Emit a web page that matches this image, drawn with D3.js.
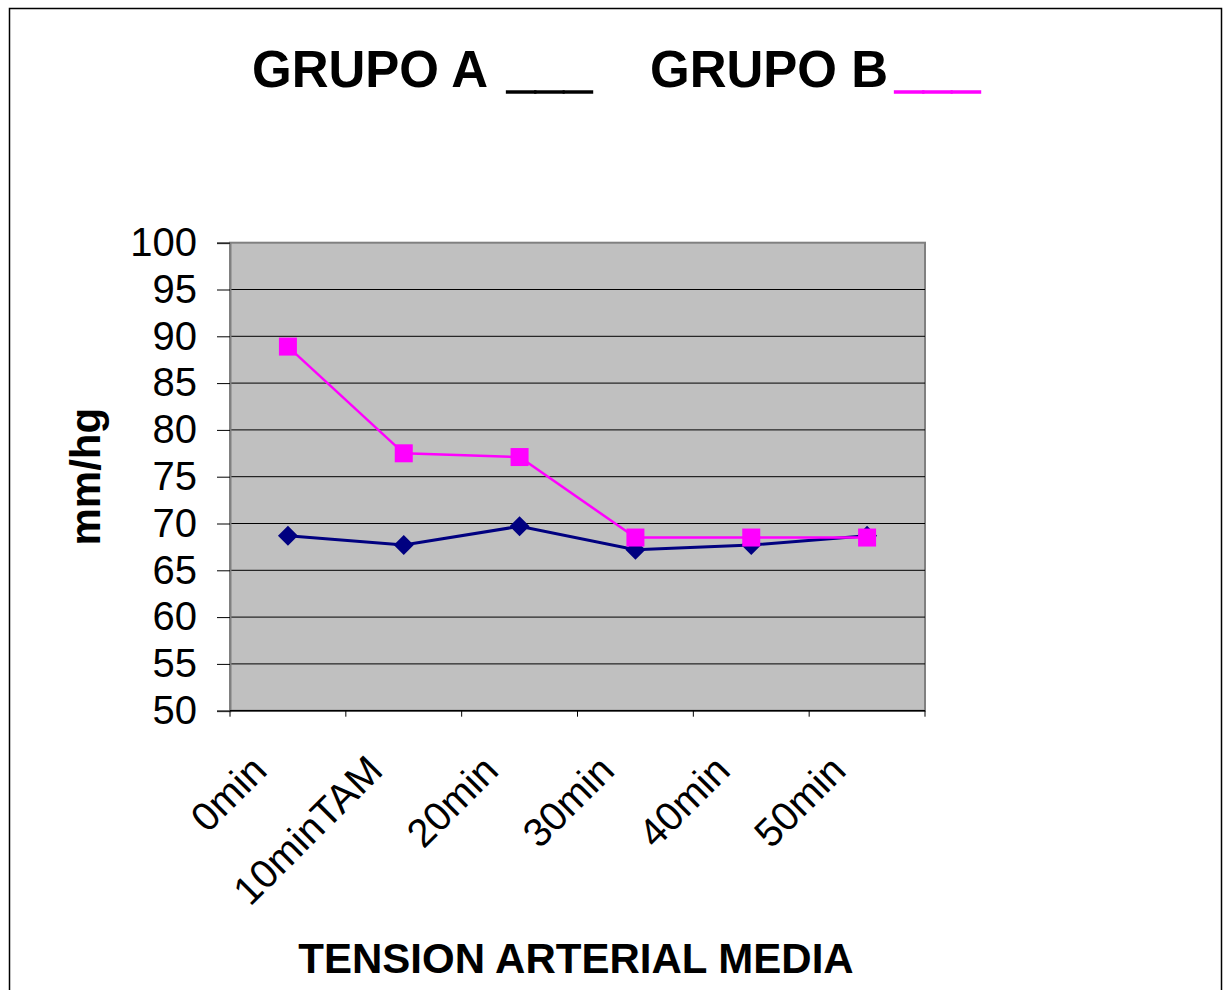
<!DOCTYPE html>
<html>
<head>
<meta charset="utf-8">
<script src="https://cdn.jsdelivr.net/npm/d3@7"></script>
<style>
  body { margin: 0; background: #fff; }
  svg { display: block; font-family: "Liberation Sans", Arial, sans-serif; }
</style>
</head>
<body>
<script>
var w = 1224;
var h = 990;

var categories = ["0min", "10minTAM", "20min", "30min", "40min", "50min"];
var grupoA = [68.7, 67.7, 69.7, 67.2, 67.7, 68.7];
var grupoB = [88.9, 77.5, 77.1, 68.5, 68.5, 68.5];
var yTicks = [50, 55, 60, 65, 70, 75, 80, 85, 90, 95, 100];

var plot = { left: 230, right: 925, top: 242.7, bottom: 710.7 };

var svg = d3.select("body").append("svg")
    .attr("width", w)
    .attr("height", h);

// outer frame
svg.append("rect")
    .attr("x", 9.5).attr("y", 8.5)
    .attr("width", 1212).attr("height", 1000)
    .attr("fill", "none")
    .attr("stroke", "#000")
    .attr("stroke-width", 1.5);

// title with legend underscores
var title = svg.append("text")
    .attr("y", 87)
    .attr("font-size", 51)
    .attr("font-weight", "bold");
title.append("tspan").attr("x", 252).text("GRUPO A");
title.append("tspan").attr("x", 507)
    .attr("stroke", "#000").attr("stroke-width", 1.3).text("___");
title.append("tspan").attr("x", 650).text("GRUPO B");
title.append("tspan").attr("x", 895)
    .attr("fill", "#ff00ff").attr("stroke", "#ff00ff").attr("stroke-width", 1.3).text("___");

var x = d3.scaleBand()
    .domain(categories)
    .range([plot.left, plot.right]);

var y = d3.scaleLinear()
    .domain([50, 100])
    .range([plot.bottom, plot.top]);

// plot background
svg.append("rect")
    .attr("x", plot.left).attr("y", plot.top)
    .attr("width", plot.right - plot.left)
    .attr("height", plot.bottom - plot.top)
    .attr("fill", "#c0c0c0")
    .attr("stroke", "#808080")
    .attr("stroke-width", 2);

// grid lines
svg.append("g")
  .selectAll("line")
  .data(yTicks.filter(function(d) { return d > 50 && d < 100; }))
  .enter().append("line")
    .attr("x1", plot.left).attr("x2", plot.right)
    .attr("y1", function(d) { return y(d); })
    .attr("y2", function(d) { return y(d); })
    .attr("stroke", "#000")
    .attr("stroke-width", 1);

// y axis
var yAxis = svg.append("g")
    .attr("transform", "translate(" + plot.left + ",0)")
    .call(d3.axisLeft(y).tickValues(yTicks).tickSize(13).tickPadding(20));
yAxis.select(".domain").attr("stroke", "#808080").attr("stroke-width", 2);
yAxis.selectAll(".tick line").attr("stroke", "#000");
yAxis.selectAll("text")
    .attr("font-size", 40)
    .attr("font-family", "Liberation Sans, Arial, sans-serif")
    .attr("fill", "#000");

// x axis: ticks at band edges
var edges = categories.map(function(c) { return x(c); }).concat([plot.right]);
svg.append("line")
    .attr("x1", plot.left).attr("x2", plot.right)
    .attr("y1", plot.bottom).attr("y2", plot.bottom)
    .attr("stroke", "#000").attr("stroke-width", 1.5);
svg.append("g")
  .selectAll("line")
  .data(edges)
  .enter().append("line")
    .attr("x1", function(d) { return d; })
    .attr("x2", function(d) { return d; })
    .attr("y1", plot.bottom).attr("y2", plot.bottom + 6)
    .attr("stroke", "#000");

svg.append("g")
  .selectAll("text")
  .data(categories)
  .enter().append("text")
    .attr("transform", function(d) {
      return "translate(" + (x(d) + x.bandwidth() / 2 - 19) + "," + (plot.bottom + 62) + ") rotate(-45)";
    })
    .attr("text-anchor", "end")
    .attr("font-size", 40)
    .text(function(d) { return d; });

// axis titles
svg.append("text")
    .attr("x", 576).attr("y", 973)
    .attr("text-anchor", "middle")
    .attr("font-size", 42)
    .attr("font-weight", "bold")
    .text("TENSION ARTERIAL MEDIA");

svg.append("text")
    .attr("transform", "translate(100," + ((plot.top + plot.bottom) / 2) + ") rotate(-90)")
    .attr("text-anchor", "middle")
    .attr("font-size", 42)
    .attr("font-weight", "bold")
    .text("mm/hg");

// series
var line = d3.line()
  .x(function(d, i) { return x(categories[i]) + x.bandwidth() / 2; })
  .y(function(d) { return y(d); });

svg.append("path")
    .attr("d", line(grupoA))
    .attr("fill", "none")
    .attr("stroke", "#000080")
    .attr("stroke-width", 3);

svg.append("g")
  .selectAll("path")
  .data(grupoA)
  .enter().append("path")
    .attr("d", d3.symbol().type(d3.symbolSquare).size(200))
    .attr("transform", function(d, i) {
      return "translate(" + (x(categories[i]) + x.bandwidth() / 2) + "," + y(d) + ") rotate(45)";
    })
    .attr("fill", "#000080");

svg.append("path")
    .attr("d", line(grupoB))
    .attr("fill", "none")
    .attr("stroke", "#ff00ff")
    .attr("stroke-width", 2.5);

svg.append("g")
  .selectAll("path")
  .data(grupoB)
  .enter().append("path")
    .attr("d", d3.symbol().type(d3.symbolSquare).size(324))
    .attr("transform", function(d, i) {
      return "translate(" + (x(categories[i]) + x.bandwidth() / 2) + "," + y(d) + ")";
    })
    .attr("fill", "#ff00ff");
</script>
</body>
</html>
